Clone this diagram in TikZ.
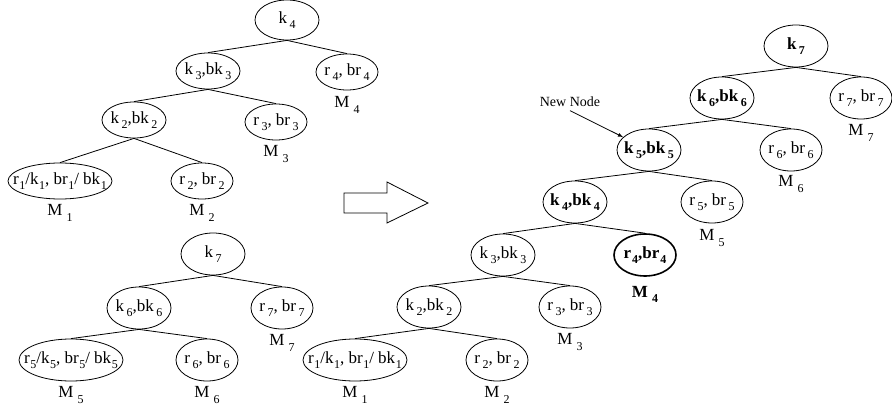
\documentclass[tikz,border=0pt]{standalone}
\usepackage{fontspec}
\setmainfont{Liberation Serif}
\usetikzlibrary{shapes.geometric, positioning}

% lowered index with a small gap, as in k 3
\newcommand{\idx}[2][2.5pt]{\kern#1\raisebox{-0.3em}{\fontsize{12}{12}\selectfont #2}}
\newcommand{\kb}[1]{\makebox[0pt]{k\idx{#1},bk\idx{#1}}}
\newcommand{\rb}[1]{\makebox[0pt]{r\idx{#1}, br\idx{#1}}}
\newcommand{\rk}[1]{\makebox[0pt]{r\idx[0.5pt]{#1}/k\idx[0.5pt]{#1}, br\idx[0.5pt]{#1}/ bk\idx[0.5pt]{#1}}}
\newcommand{\mlab}[1]{M\idx[4pt]{#1}}

\begin{document}
\begin{tikzpicture}[x=1pt, y=-1pt, line width=0.8pt, font=\fontsize{17}{20}\selectfont, >=latex]

    \tikzstyle{key} = [draw, ellipse, inner sep=0pt, minimum width=64pt, minimum height=36pt]
    \tikzstyle{leaf} = [key, minimum width=62pt]
    \tikzstyle{wide} = [key, minimum width=104pt]
    \tikzstyle{big} = [minimum height=42pt]
    \tikzstyle{newkey} = [key, big, font=\fontsize{17}{20}\selectfont\bfseries]
    \tikzstyle{mem} = [inner sep=0pt]

    \useasboundingbox (0,0) rectangle (892,409);

    % Tree before insertion
    \node [key, minimum height=40pt] (tk4) at (287,20) {k\idx{4}};
    \node [key] (tk3) at (208,71) {\kb{3}};
    \node [leaf] (tr4) at (347,72) {\rb{4}};
    \node [key] (tk2) at (134,120) {\kb{2}};
    \node [leaf] (tr3) at (276,122) {\rb{3}};
    \node [wide] (tr1) at (60,181) {\rk{1}};
    \node [leaf] (tr2) at (202,181) {\rb{2}};

    \node [mem, below=6pt of tr4] (tm4) {\mlab{4}};
    \node [mem, below=5pt of tr3] (tm3) {\mlab{3}};
    \node [mem, below=5pt of tr1] (tm1) {\mlab{1}};
    \node [mem, below=5pt of tr2] (tm2) {\mlab{2}};

    % Tree to be added
    \node [key, big] (bk7) at (213,254) {k\idx{7}};
    \node [key, big] (bk6) at (139,308) {\kb{6}};
    \node [leaf, big] (br7) at (282,308) {\rb{7}};
    \node [wide, big] (br5) at (71,360) {\rk{5}};
    \node [leaf, big] (br6) at (207,360) {\rb{6}};

    \node [mem, below=5pt of br7] (bm7) {\mlab{7}};
    \node [mem, below=5pt of br5] (bm5) {\mlab{5}};
    \node [mem, below=5pt of br6] (bm6) {\mlab{6}};

    % Merged tree
    \node [newkey] (nk7) at (796,46) {k\idx{7}};
    \node [newkey] (nk6) at (722,98) {\kb{6}};
    \node [leaf, big] (nr7) at (861,98) {\rb{7}};
    \node [newkey] (nk5) at (649,150) {\kb{5}};
    \node [leaf, big] (nr6) at (791,150) {\rb{6}};
    \node [newkey] (nk4) at (575,202) {\kb{4}};
    \node [leaf, big] (nr5) at (712,202) {\rb{5}};
    \node [key, big] (nk3) at (503,255) {\kb{3}};
    \node [leaf, big, line width=1.6pt, font=\fontsize{17}{20}\selectfont\bfseries] (nr4) at (645,255) {\makebox[0pt]{r\idx[1pt]{4},br\idx[1pt]{4}}};
    \node [key, big] (nk2) at (429,307) {\kb{2}};
    \node [leaf, big] (nr3) at (570,307) {\rb{3}};
    \node [wide, big] (nr1) at (355,360) {\rk{1}};
    \node [leaf, big] (nr2) at (497,360) {\rb{2}};

    \node [mem, below=5pt of nr7] (nm7) {\mlab{7}};
    \node [mem, below=4pt of nr6] (nm6) {\mlab{6}};
    \node [mem, below=6pt of nr5] (nm5) {\mlab{5}};
    \node [mem, below=9pt of nr4, font=\fontsize{17}{20}\selectfont\bfseries] (nm4) {\mlab{4}};
    \node [mem, below=5pt of nr3] (nm3) {\mlab{3}};
    \node [mem, below=5pt of nr1] (nm1) {\mlab{1}};
    \node [mem, below=5pt of nr2] (nm2) {\mlab{2}};

    % New Node pointer
    \node [font=\fontsize{14}{16}\selectfont] (newnode) at (570,102) {New Node};
    \draw [->] (newnode.south) -- (nk5);

    % Tree edges
    \foreach \a/\b in {tk4/tk3, tk4/tr4, tk3/tk2, tk3/tr3, tk2/tr1, tk2/tr2,
                       bk7/bk6, bk7/br7, bk6/br5, bk6/br6,
                       nk7/nk6, nk7/nr7, nk6/nk5, nk6/nr6, nk5/nk4, nk5/nr5,
                       nk4/nk3, nk4/nr4, nk3/nk2, nk3/nr3, nk2/nr1, nk2/nr2}
        \draw (\a.south) -- (\b.north);

    % Merge arrow
    \draw (344,193) -- (387,193) -- (387,182) -- (428,203) -- (387,223) -- (387,213) -- (344,213) -- cycle;

\end{tikzpicture}
\end{document}
